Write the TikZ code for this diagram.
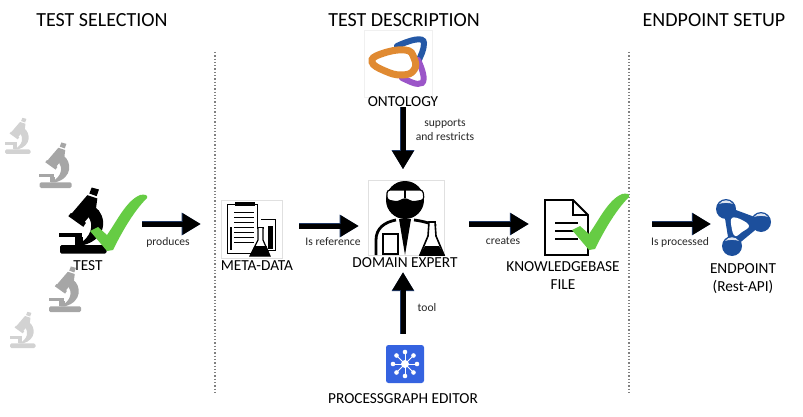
\documentclass[tikz,border=0pt]{standalone}
\usepackage{fontspec}
\setmainfont{Carlito}
\usetikzlibrary{arrows.meta}
\definecolor{checkgreen}{HTML}{66CC44}
\definecolor{scopedark}{HTML}{A6A6A6}
\definecolor{scopelight}{HTML}{D2D2D2}
\definecolor{arrownavy}{HTML}{1F3864}
\definecolor{ontoorange}{HTML}{E08A32}
\definecolor{ontoblue}{HTML}{2458A6}
\definecolor{ontopurple}{HTML}{9B55C8}
\definecolor{endpointblue}{HTML}{1C4F9C}
\definecolor{editorblue}{HTML}{3563E0}
\tikzset{
  heading/.style={font=\fontsize{20}{22}\selectfont,inner sep=0pt},
  iconlabel/.style={font=\fontsize{15.3}{18}\selectfont,align=center,inner sep=0pt},
  edgelabel/.style={font=\fontsize{11.6}{14}\selectfont,align=center,inner sep=0pt,text=black!85},
  iconbox/.style={draw=none,inner sep=0pt},
  framebox/.style={draw=black!12,line width=.6pt,inner sep=0pt},
  flow/.style={line width=5pt,-{Triangle[length=18pt,width=20pt]},
    preaction={draw=arrownavy,line width=6.6pt,-{Triangle[length=19pt,width=21.5pt]}}},
  divider/.style={draw=black!50,line width=1.3pt,dotted},
  microscope/.pic={
    \fill[pic actions,rounded corners=1.5pt] (0,0) rectangle (140,-25);
    \fill[pic actions] (-2,-50) rectangle (65,-63);
    \fill[pic actions] (45,-25) rectangle (68,-50);
    \fill[pic actions] (95,-198) -- (117,-192) -- (110,-172) -- (88,-180) -- cycle;
    \fill[pic actions] (82,-175) -- (112,-165) -- (108,-135) -- (70,-90) -- (35,-120) -- cycle;
    \fill[pic actions] (25,-112) -- (33,-122) -- (78,-92) -- (70,-80) -- cycle;
    \fill[pic actions] (105,-140) .. controls (140,-115) and (145,-45) .. (70,-25)
      -- (50,-25) .. controls (100,-50) and (100,-90) .. (85,-110) -- cycle;
  },
  tick/.pic={
    \fill[checkgreen] (0,0) -- (8,-4) -- (17,4) .. controls (27,-10) and (36,-30) .. (50,-36)
      .. controls (55,-37) and (58,-36) .. (57,-33)
      .. controls (42,-18) and (30,5) .. (23,19) -- (17,20) -- cycle;
  }
}
\begin{document}
\begin{tikzpicture}[x=1pt,y=-1pt]
  \useasboundingbox (0,0) rectangle (803,417);

  %%%%  Headings and dividers
  \node[heading] (selection) at (102,20) {TEST SELECTION};
  \node[heading] (description) at (404,20) {TEST DESCRIPTION};
  \node[heading] (setup) at (714,20) {ENDPOINT SETUP};
  \coordinate (divatop) at (215,52);
  \coordinate (divabot) at (215,395);
  \coordinate (divbtop) at (629,52);
  \coordinate (divbbot) at (629,395);
  \draw[divider] (divatop) -- (divabot);
  \draw[divider] (divbtop) -- (divbbot);

  %%%%  Test selection
  \pic[fill=scopelight,scale=.183] at (5,154) {microscope};
  \pic[fill=scopedark,scale=.23] at (39.5,188) {microscope};
  \pic[fill=scopedark,scale=.23] at (49,312) {microscope};
  \pic[fill=scopelight,scale=.183] at (10,348) {microscope};
  \pic[fill=black,scale=.3333] at (60,253.5) {microscope};
  \pic at (90,231) {tick};
  \node[iconbox,minimum width=70pt,minimum height=70pt] (test) at (95,224) {};
  \node[iconlabel] (testlabel) at (88,266) {TEST};

  %%%%  Meta-data
  \node[framebox,minimum width=61pt,minimum height=58pt] (meta) at (251.5,229) {};
  \node[iconlabel] (metalabel) at (257,266) {META-DATA};
  \draw[line width=1pt] (227,204) rectangle (257,253);
  \fill (235,202) rectangle (255,206);
  \foreach \y in {212,217,222,227,232,237,242}
    {\draw[line width=1pt] (234,\y) -- (254,\y);};
  \draw[line width=2pt] (231,227) -- (231,250);
  \draw[line width=1pt] (261,219) -- (275,219) -- (275,250) -- (262,250);
  \fill (268,226) rectangle (273,249);
  \fill[white] (256,229) rectangle (268,256);
  \draw[line width=1.2pt] (257,228) -- (264,228);
  \draw[line width=1.2pt,fill=white] (258,228) -- (258,240) -- (250,256) -- (270,256) -- (263,240) -- (263,228);
  \fill (254.5,246) -- (266.5,246) -- (270,256) -- (250,256) -- cycle;

  %%%%  Ontology
  \node[framebox,draw=black!6,minimum width=68pt,minimum height=67pt] (ontology) at (398,63.5) {};
  \node[iconlabel] (ontologylabel) at (403,102) {ONTOLOGY};
  \draw[ontoblue,line width=6pt,line cap=round] (397,46) .. controls (410,40) and (424,36) .. (424,43) .. controls (424,50) and (421,55) .. (418,62);
  \draw[ontopurple,line width=6pt,line cap=round] (418,60) .. controls (422,68) and (426,80) .. (422,83) .. controls (417,86) and (409,81) .. (402,78);
  \draw[ontoorange,line width=7pt] plot[smooth cycle,tension=.8] coordinates {(372,62) (381,54) (405,50) (414,58) (414,70) (402,75) (385,71)};

  %%%%  Domain expert
  \node[framebox,minimum width=76pt,minimum height=75pt] (expert) at (406,218) {};
  \node[iconlabel] (expertlabel) at (405,263) {DOMAIN EXPERT};
  \fill (405,200) circle (19pt);
  \draw[line width=1.2pt,fill=white,rounded corners=3pt] (387,190) -- (423,190) -- (424,200) -- (412,202) -- (405,198) -- (398,202) -- (387,200) -- cycle;
  \draw[line width=1.2pt] (405,190) -- (405,198);
  \draw[line width=2.8pt] (376,255) -- (376,240) .. controls (376,228) and (385,222) .. (396,220);
  \draw[line width=2.8pt] (414,220) .. controls (422,221) and (430,223) .. (436,226);
  \draw[line width=2pt] (383,234) rectangle (398,254);
  \fill (399,219) -- (411,219) -- (405,255) -- cycle;
  \draw[line width=1.6pt,fill=white] (429,222) -- (435,222) -- (436,236) -- (444,255) -- (420,255) -- (428,236) -- cycle;
  \fill (425,246) -- (439,246) -- (444,255) -- (420,255) -- cycle;

  %%%%  Knowledgebase file
  \node[iconbox,minimum width=43pt,minimum height=55pt] (kbfile) at (566.5,227.5) {};
  \node[iconlabel] (kblabel) at (563,276) {KNOWLEDGEBASE\\FILE};
  \draw[line width=1.8pt,line join=miter] (545,200) -- (573,200) -- (588,215) -- (588,255) -- (545,255) -- cycle;
  \draw[line width=1.8pt] (573,200) -- (573,215) -- (588,215);
  \foreach \y in {223,231,239}
    {\draw[line width=1.6pt] (555,\y) -- (578,\y);};
  \pic at (572,230) {tick};

  %%%%  Endpoint
  \node[iconbox,minimum width=56pt,minimum height=60pt] (endpoint) at (744,228) {};
  \node[iconlabel] (endpointlabel) at (743,278.5) {ENDPOINT\\(Rest-API)};
  \draw[endpointblue,fill=endpointblue,line width=5pt,line join=round] (726,209) -- (761,222) -- (732,246) -- cycle;
  \fill[white] plot[smooth cycle,tension=.7] coordinates {(732,218) (741,219.5) (749,226) (742,232) (735,236) (731.5,227)};
  \foreach \x/\y/\r in {726/209/10,761/222/10,732/246/10}
   {\fill[endpointblue] (\x,\y) circle (\r pt);
    \fill[white,opacity=.85] (\x-7,\y-5) .. controls (\x-3,\y-10) and (\x+3,\y-10) .. (\x+7,\y-5)
      .. controls (\x+3,\y-6.5) and (\x-3,\y-6.5) .. (\x-7,\y-5) -- cycle;
   };

  %%%%  Processgraph editor
  \node[iconbox,fill=editorblue,rounded corners=2.5pt,minimum width=38pt,minimum height=38pt] (editor) at (405,364) {};
  \node[iconlabel] (editorlabel) at (403,399) {PROCESSGRAPH EDITOR};
  \foreach \a in {0,45,90,135,180,225,270,315}
   {\draw[white,line width=.9pt] (editor.center) -- ++({\a}:12pt);
    \fill[white] (editor.center) ++({\a}:12pt) circle (2.3pt);
   };
  \fill[white] (editor.center) circle (4pt);

  %%%%  Connectors
  \draw[flow,shorten <=12pt,shorten >=20pt] (test.east) -- (test.east -| meta.west);
  \draw[flow,shorten <=17pt,shorten >=9pt] ([yshift=3pt]meta.east) -- ([yshift=3pt]meta.east -| expert.west);
  \draw[flow,shorten <=25pt,shorten >=16pt] ([yshift=-6pt]expert.east) -- ([yshift=-6pt]expert.east -| kbfile.west);
  \draw[flow,shorten <=64pt,shorten >=5pt] ([yshift=3.5pt]kbfile.east) -- ([yshift=3.5pt]kbfile.east -| endpoint.west);
  \draw[flow,shorten >=11pt] (ontologylabel.south) -- (ontologylabel.south |- expert.north);
  \draw[flow,shorten <=11pt,shorten >=4pt] ([xshift=-2pt]editor.north) -- ([xshift=-2pt]editor.north |- expertlabel.south);

  %%%%  Connector labels
  \node[edgelabel] (produces) at (168,242) {produces};
  \node[edgelabel] (isreference) at (333,242) {Is reference};
  \node[edgelabel] (supports) at (445,130) {supports\\and restricts};
  \node[edgelabel] (creates) at (503,241) {creates};
  \node[edgelabel] (isprocessed) at (680,242) {Is processed};
  \node[edgelabel] (tool) at (427,308) {tool};
\end{tikzpicture}
\end{document}
